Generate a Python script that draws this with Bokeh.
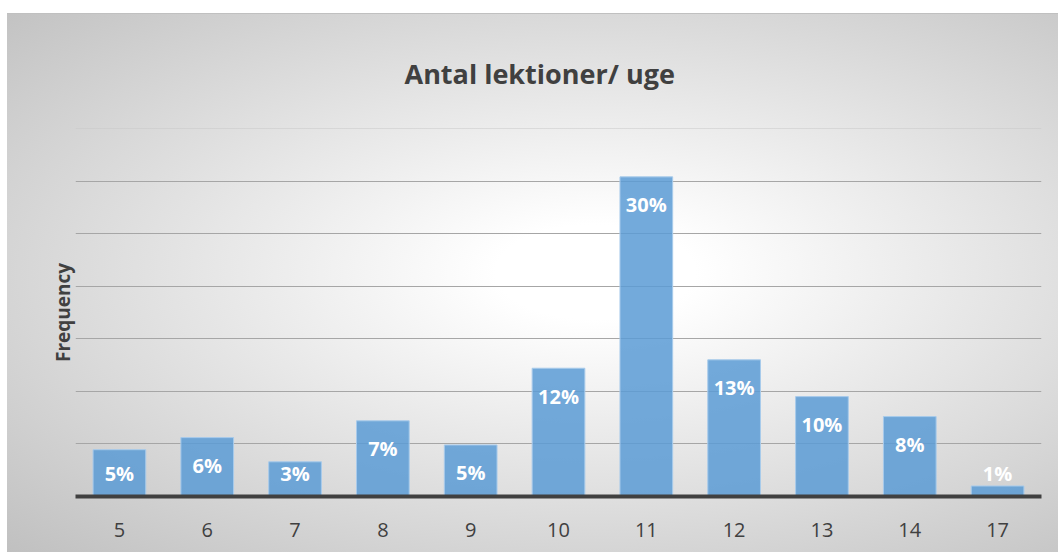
from bokeh.plotting import figure
from bokeh.models import ColumnDataSource, SingleIntervalTicker, FixedTicker, LabelSet, Spacer, Span
from bokeh.layouts import column, row
from bokeh.core.properties import value
from bokeh.embed import file_html
from bokeh.resources import INLINE

categories = ["5", "6", "7", "8", "9", "10", "11", "12", "13", "14", "17"]
values = [4.45, 5.6, 3.3, 7.2, 4.9, 12.2, 30.4, 13.0, 9.5, 7.6, 1.0]
labels = ["5%", "6%", "3%", "7%", "5%", "12%", "30%", "13%", "10%", "8%", "1%"]

FONT = "Open Sans"
label_y = [max(v - 2.66, 2.19) for v in values]
src = ColumnDataSource(dict(cat=categories, val=values, lab=labels, ly=label_y))

p = figure(x_range=categories, y_range=(0, 35), width=1051, height=539,
           output_backend="svg", toolbar_location=None,
           min_border_left=68, min_border_right=17, min_border_bottom=57, min_border_top=114)
p.styles = {"background": "radial-gradient(ellipse at 56% 48%, #ffffff 0%, #ffffff 12%, #c0c0c0 100%)",
            "border-top": "1px solid #c0c0c0"}
p.background_fill_alpha = 0
p.border_fill_alpha = 0
p.outline_line_color = None

p.vbar(x="cat", top="val", width=0.6, source=src, fill_color="#5B9BD5", fill_alpha=0.85,
       line_color="#a8cbeb", line_width=1)

p.add_layout(LabelSet(x="cat", y="ly", text="lab", source=src, text_color="white",
                      text_font=value(FONT), text_font_style="bold", text_font_size="20px",
                      text_align="center", text_baseline="middle"))

p.title.text = "Antal  lektioner/ uge"
p.title.align = "left"
p.title.text_font = FONT
p.title.text_font_size = "27px"
p.title.text_font_style = "bold"
p.title.text_color = "#404040"
p.title.standoff = 73
p.title.offset = 329

p.ygrid.ticker = SingleIntervalTicker(interval=5)
p.ygrid.grid_line_color = "#a6a6a6"
p.ygrid.grid_line_width = 1.2
p.xgrid.grid_line_color = None
p.add_layout(Span(location=35, dimension="width", line_color="#c8c8c8", line_width=1.2))

p.yaxis.ticker = FixedTicker(ticks=[])
p.yaxis.major_tick_line_color = None
p.yaxis.minor_tick_line_color = None
p.yaxis.axis_line_color = None
p.yaxis.axis_label = "Frequency"
p.yaxis.axis_label_text_font = FONT
p.yaxis.axis_label_text_font_style = "bold"
p.yaxis.axis_label_text_font_size = "19px"
p.yaxis.axis_label_text_color = "#404040"
p.yaxis.axis_label_standoff = 0

p.xaxis.axis_line_color = "#404040"
p.xaxis.axis_line_width = 4
p.xaxis.major_tick_line_color = None
p.xaxis.minor_tick_line_color = None
p.xaxis.major_label_text_font = FONT
p.xaxis.major_label_text_font_size = "20px"
p.xaxis.major_label_text_color = "#404040"
p.xaxis.major_label_standoff = 20

layout = row(Spacer(width=7, height=552), column(Spacer(height=13, width=1051), p, spacing=0), spacing=0)
open("out.html", "w").write(file_html(layout, INLINE))
